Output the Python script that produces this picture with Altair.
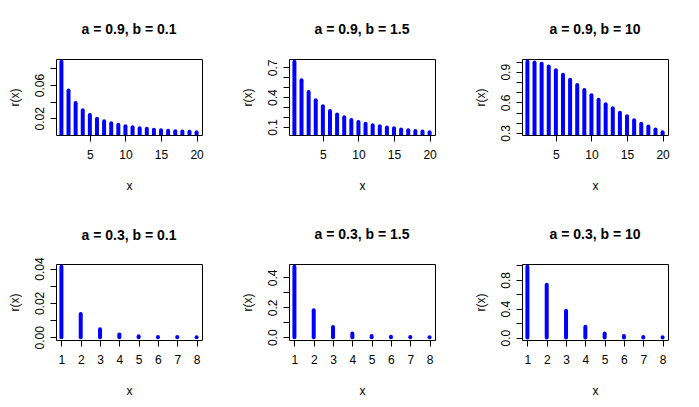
import altair as alt
import pandas as pd

titles = ["a = 0.9, b = 0.1", "a = 0.9, b = 1.5", "a = 0.9, b = 10",
          "a = 0.3, b = 0.1", "a = 0.3, b = 1.5", "a = 0.3, b = 10"]

x_top = list(range(1, 21))
x_bottom = list(range(1, 9))

r_a09_b01 = [0.088, 0.0536, 0.0385, 0.0296, 0.0241, 0.0196, 0.0164, 0.014, 0.0121, 0.0104,
             0.0092, 0.008, 0.0073, 0.0063, 0.0056, 0.0049, 0.0044, 0.004, 0.0037, 0.0033]
r_a09_b15 = [0.755, 0.569, 0.452, 0.368, 0.308, 0.261, 0.225, 0.197, 0.170, 0.150,
             0.134, 0.117, 0.107, 0.094, 0.087, 0.076, 0.068, 0.061, 0.055, 0.048]
r_a09_b10 = [0.997, 0.990, 0.977, 0.950, 0.914, 0.871, 0.822, 0.769, 0.720, 0.670,
             0.624, 0.581, 0.542, 0.498, 0.463, 0.423, 0.389, 0.363, 0.333, 0.307]
r_a03_b01 = [0.041, 0.0135, 0.0047, 0.0016, 0.0006, 0.0002, 0.0001, 0.00005]
r_a03_b15 = [0.47, 0.18, 0.068, 0.025, 0.009, 0.0035, 0.0015, 0.0006]
r_a03_b10 = [0.98, 0.731, 0.371, 0.151, 0.058, 0.022, 0.010, 0.006]

y_ticks = [[0.02, 0.04, 0.06, 0.08],
           [0.1, 0.2, 0.3, 0.4, 0.5, 0.6, 0.7],
           [0.3, 0.4, 0.5, 0.6, 0.7, 0.8, 0.9, 1.0],
           [0.0, 0.01, 0.02, 0.03, 0.04],
           [0.0, 0.1, 0.2, 0.3, 0.4],
           [0.0, 0.2, 0.4, 0.6, 0.8, 1.0]]
y_shown = [[0.02, 0.06], [0.1, 0.4, 0.7], [0.3, 0.6, 0.9],
           [0.0, 0.02, 0.04], [0.0, 0.2, 0.4], [0.0, 0.4, 0.8]]
y_formats = [".2f", ".1f", ".1f", ".2f", ".1f", ".1f"]
x_ticks_top = [5, 10, 15, 20]
x_ticks_bottom = [1, 2, 3, 4, 5, 6, 7, 8]

# vertical nudge of a panel title where a top tick label pokes above the frame
title_dy = [0, 0, 0, 8, 0, 0]

W, H = 146, 76
FONT = "Liberation Sans"


def panel(xs, ys, title, yt, ys_shown, fmt, xt, dy):
    df = pd.DataFrame({"x": xs, "r": ys})
    xpad = 0.04 * (max(xs) - min(xs))
    ypad = 0.04 * (max(ys) - min(ys))
    label_expr = ("indexof([" + ",".join(repr(v) for v in ys_shown) +
                  "], datum.value) >= 0 ? datum.label : ''")
    return alt.Chart(df).mark_rule(
        color="#0000FF", strokeWidth=4, strokeCap="round", clip=True
    ).encode(
        x=alt.X("x:Q",
                scale=alt.Scale(domain=[min(xs) - xpad, max(xs) + xpad], nice=False, zero=False),
                axis=alt.Axis(values=xt, title="x", labelPadding=13, labelBaseline="middle",
                              titleX=W / 2, titleY=50, titleBaseline="middle", titleAlign="center")),
        y=alt.Y("r:Q",
                scale=alt.Scale(domain=[min(ys) - ypad, max(ys) + ypad], nice=False, zero=False),
                axis=alt.Axis(values=yt, format=fmt, labelExpr=label_expr, title="r(x)",
                              labelAngle=270, labelAlign="center", labelBaseline="middle",
                              labelPadding=11, titleAngle=270, titleX=-42, titleY=H / 2,
                              titleBaseline="middle", titleAlign="center")),
        y2=alt.datum(0),
    ).properties(
        width=W, height=H,
        title=alt.TitleParams(title, frame="group", anchor="middle", baseline="middle",
                              offset=15, dy=dy),
    )


xs_list = [x_top, x_top, x_top, x_bottom, x_bottom, x_bottom]
rs_list = [r_a09_b01, r_a09_b15, r_a09_b10, r_a03_b01, r_a03_b15, r_a03_b10]
xt_list = [x_ticks_top] * 3 + [x_ticks_bottom] * 3

panels = [panel(xs_list[i], rs_list[i], titles[i], y_ticks[i], y_shown[i], y_formats[i],
                xt_list[i], title_dy[i])
          for i in range(6)]

chart = alt.concat(*panels, columns=3, spacing={"row": 129, "column": 87}, bounds="flush").properties(
    padding={"left": -1, "top": 14, "right": 5, "bottom": 5},
    background="white",
).configure_view(
    stroke="black", strokeWidth=1
).configure_axis(
    grid=False, domain=False, ticks=True, tickColor="black", tickSize=6, tickWidth=1,
    labelFont=FONT, labelFontSize=12, labelColor="black",
    titleFont=FONT, titleFontSize=12, titleFontWeight="normal", titleColor="black",
    labelOverlap=False, labelFlush=False
).configure_title(
    font=FONT, fontSize=14, fontWeight="bold", color="black"
)

chart.save("out.html", embed_options={"renderer": "svg", "actions": False})
